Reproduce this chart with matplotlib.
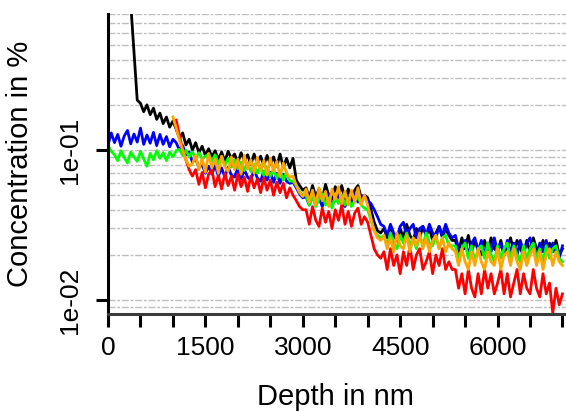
import numpy as np
import matplotlib
matplotlib.use("Agg")
import matplotlib.pyplot as plt
from matplotlib.ticker import NullLocator

plt.rcParams['font.family'] = ['Liberation Sans', 'DejaVu Sans']

# depth sampling (nm) and start depth of each profile
step = 50
depth_end = 7000
black_start = 350
blue_start = 0
green_start = 0
orange_start = 1000
red_start = 1050

# concentrations in %, one value every 50 nm
black = [0.95, 0.45, 0.215, 0.205,
         0.180, 0.200, 0.172, 0.190, 0.160, 0.176, 0.150, 0.166, 0.142, 0.156,
         0.138, 0.120, 0.130, 0.108, 0.118, 0.100, 0.112, 0.096, 0.106, 0.092,
         0.102, 0.090, 0.099, 0.086, 0.097, 0.084, 0.098, 0.088, 0.094, 0.082,
         0.096, 0.085, 0.093, 0.080, 0.094, 0.082, 0.091, 0.079, 0.092, 0.080,
         0.090, 0.078, 0.094, 0.077, 0.088, 0.076,
         0.088, 0.063, 0.058, 0.054,
         0.056, 0.048, 0.058, 0.049, 0.055, 0.047, 0.059, 0.050, 0.047, 0.057,
         0.049, 0.058, 0.047, 0.055, 0.046, 0.054, 0.058, 0.048, 0.050,
         0.048, 0.040, 0.033, 0.029, 0.028,
         0.030, 0.026, 0.031, 0.027, 0.025, 0.030, 0.026, 0.032, 0.027, 0.025,
         0.030, 0.026, 0.031, 0.027, 0.030, 0.025, 0.028, 0.031, 0.026, 0.030, 0.027,
         0.025,
         0.025, 0.021, 0.026, 0.022, 0.027, 0.021, 0.025, 0.022, 0.020, 0.025,
         0.021, 0.026, 0.022, 0.021, 0.025, 0.020, 0.023, 0.026, 0.021, 0.025,
         0.022, 0.020, 0.025, 0.021, 0.026, 0.022, 0.021, 0.025, 0.020, 0.024,
         0.021, 0.025, 0.020, 0.022]

blue = [0.108, 0.130, 0.112, 0.127, 0.106, 0.124, 0.135, 0.110, 0.128, 0.113,
        0.140, 0.109, 0.126, 0.111, 0.131, 0.107, 0.127, 0.109, 0.123, 0.105, 0.118,
        0.112, 0.100, 0.107, 0.093, 0.097, 0.083, 0.088, 0.076, 0.080, 0.070,
        0.078, 0.069, 0.079, 0.067, 0.076, 0.066, 0.077, 0.068, 0.066, 0.076,
        0.064, 0.074, 0.066, 0.063, 0.074, 0.065, 0.062, 0.072, 0.063, 0.071,
        0.061, 0.070, 0.060, 0.069, 0.062, 0.060,
        0.061, 0.056, 0.051, 0.048,
        0.049, 0.043, 0.050, 0.044, 0.048, 0.042, 0.049, 0.051, 0.043, 0.047,
        0.050, 0.044, 0.042, 0.049, 0.044, 0.051, 0.045, 0.050, 0.048,
        0.046, 0.044, 0.040, 0.036, 0.032,
        0.031, 0.027, 0.032, 0.028, 0.026, 0.031, 0.033, 0.027, 0.030, 0.032,
        0.026, 0.030, 0.031, 0.027, 0.032, 0.028, 0.026, 0.031, 0.027, 0.032, 0.028,
        0.026,
        0.027, 0.022, 0.021, 0.025, 0.020, 0.024, 0.026, 0.021, 0.025, 0.020,
        0.024, 0.021, 0.026, 0.021, 0.024, 0.020, 0.025, 0.021, 0.024, 0.020,
        0.025, 0.021, 0.024, 0.026, 0.021, 0.020, 0.024, 0.021, 0.025, 0.020,
        0.024, 0.021, 0.019, 0.023]

green = [0.107, 0.098, 0.093, 0.085, 0.099, 0.089, 0.082, 0.097, 0.090, 0.084,
         0.098, 0.087, 0.078, 0.095, 0.086, 0.099, 0.088, 0.096, 0.085, 0.097, 0.090,
         0.099, 0.101, 0.092, 0.100, 0.090, 0.097, 0.088, 0.096, 0.087, 0.091,
         0.094, 0.084, 0.093, 0.081, 0.090, 0.079, 0.088, 0.077, 0.086, 0.075,
         0.083, 0.073, 0.082, 0.072, 0.080, 0.070, 0.079, 0.068, 0.077, 0.067,
         0.075, 0.065, 0.073, 0.063, 0.071, 0.062,
         0.062, 0.058, 0.053, 0.050,
         0.050, 0.043, 0.049, 0.042, 0.047, 0.051, 0.043, 0.048, 0.041, 0.049,
         0.044, 0.050, 0.043, 0.048, 0.042, 0.046, 0.049, 0.043, 0.041,
         0.040, 0.034, 0.029, 0.027, 0.026,
         0.027, 0.023, 0.028, 0.024, 0.022, 0.027, 0.024, 0.028, 0.023, 0.026,
         0.022, 0.027, 0.023, 0.028, 0.024, 0.023, 0.027, 0.022, 0.026, 0.027, 0.023,
         0.023,
         0.023, 0.019, 0.022, 0.024, 0.019, 0.023, 0.018, 0.022, 0.023, 0.019,
         0.024, 0.020, 0.018, 0.023, 0.019, 0.022, 0.024, 0.019, 0.023, 0.020,
         0.018, 0.023, 0.019, 0.022, 0.024, 0.019, 0.022, 0.018, 0.023, 0.019,
         0.022, 0.023, 0.019, 0.018]

orange = [0.166, 0.140, 0.117, 0.100, 0.086, 0.078, 0.081,
          0.092, 0.074, 0.088, 0.071, 0.095, 0.076, 0.087, 0.070, 0.091, 0.077,
          0.072, 0.090, 0.074, 0.087, 0.069, 0.092, 0.075, 0.086, 0.070, 0.089,
          0.073, 0.085, 0.068, 0.088, 0.072, 0.084, 0.067, 0.082, 0.070, 0.066,
          0.067, 0.058, 0.052, 0.049,
          0.055, 0.045, 0.054, 0.043, 0.056, 0.046, 0.053, 0.042, 0.055, 0.047,
          0.057, 0.044, 0.053, 0.043, 0.054, 0.045, 0.056, 0.043, 0.050,
          0.043, 0.035, 0.029, 0.026, 0.025,
          0.027, 0.022, 0.026, 0.021, 0.028, 0.023, 0.022, 0.027, 0.021, 0.026,
          0.023, 0.028, 0.022, 0.026, 0.021, 0.025, 0.027, 0.022, 0.026, 0.021, 0.024,
          0.022,
          0.021, 0.017, 0.022, 0.018, 0.016, 0.021, 0.017, 0.022, 0.018, 0.016,
          0.021, 0.018, 0.017, 0.022, 0.016, 0.020, 0.021, 0.017, 0.022, 0.018,
          0.016, 0.021, 0.017, 0.020, 0.022, 0.017, 0.021, 0.016, 0.020, 0.022,
          0.017, 0.021, 0.018, 0.017]

red = [0.158, 0.126, 0.100, 0.086, 0.074, 0.067,
       0.074, 0.059, 0.071, 0.056, 0.069, 0.074, 0.057, 0.068, 0.055, 0.070,
       0.058, 0.067, 0.054, 0.069, 0.057, 0.066, 0.053, 0.067, 0.056, 0.064,
       0.052, 0.065, 0.054, 0.063, 0.050, 0.061, 0.052, 0.060, 0.048, 0.056,
       0.050, 0.046, 0.042, 0.040,
       0.040, 0.032, 0.042, 0.034, 0.031, 0.041, 0.033, 0.039, 0.030, 0.040,
       0.034, 0.043, 0.032, 0.039, 0.031, 0.038, 0.041, 0.032, 0.036,
       0.033, 0.027, 0.022, 0.020, 0.019,
       0.021, 0.016, 0.022, 0.017, 0.020, 0.015, 0.021, 0.017, 0.023, 0.016,
       0.020, 0.022, 0.016, 0.018, 0.021, 0.015, 0.020, 0.017, 0.022, 0.016, 0.018,
       0.016,
       0.016, 0.012, 0.015, 0.011, 0.016, 0.012, 0.0105, 0.015, 0.011, 0.016,
       0.012, 0.015, 0.011, 0.013, 0.016, 0.011, 0.015, 0.0105, 0.013, 0.016,
       0.011, 0.015, 0.012, 0.011, 0.016, 0.012, 0.0105, 0.015, 0.011, 0.013,
       0.0082, 0.012, 0.0093, 0.011]

series = [(black, black_start, 'black'),
          (blue, blue_start, 'blue'),
          (green, green_start, '#00ff00'),
          (red, red_start, 'red'),
          (orange, orange_start, 'orange')]

x_ticks = list(range(0, 7001, 500))
x_labels = [str(t) if t % 1500 == 0 else '' for t in x_ticks]
y_ticks = [0.01, 0.1]
y_labels = ['1e-02', '1e-01']

fig = plt.figure(figsize=(5.66, 4.12), dpi=100)
ax = fig.add_axes([108 / 566, 98 / 412, 458 / 566, 300 / 412])

# dash-dot grey lines at every log step
grid_vals = [0.008, 0.009] + [m * 0.01 for m in range(1, 10)] + [m * 0.1 for m in range(1, 9)]
for g in grid_vals:
    ax.axhline(g, color='#bebebe', lw=1.0, ls=(0, (5, 1.3, 2, 1.3)), zorder=1)

for vals, start, col in series:
    d = np.arange(start, depth_end + 1, step)
    assert len(d) == len(vals), (col, len(d), len(vals))
    ax.plot(d, vals, color=col, lw=2.0, zorder=2)

ax.set_yscale('log')
ax.set_ylim(0.00808, 0.806)
ax.set_xlim(0, 7054)

ax.set_yticks(y_ticks)
ax.set_yticklabels(y_labels, rotation=90, va='center')
ax.yaxis.set_minor_locator(NullLocator())
ax.set_xticks(x_ticks)
ax.set_xticklabels(x_labels)

ax.tick_params(axis='both', length=9, width=2.2, labelsize=19, color='black')
ax.tick_params(axis='y', pad=10)
ax.tick_params(axis='x', pad=7)

for s in ['top', 'right']:
    ax.spines[s].set_visible(False)
ax.spines['left'].set_linewidth(2.2)
ax.spines['bottom'].set_linewidth(2.2)
ax.spines['bottom'].set_color('#3a3a3a')

fig.text(335 / 566, 1 - 405 / 412, 'Depth in nm', ha='center', va='baseline', fontsize=21)
fig.text(34 / 566, 1 - 164 / 412, 'Concentration in %', rotation=90,
         ha='right', va='center', fontsize=21)

fig.savefig('out.png', dpi=100)
